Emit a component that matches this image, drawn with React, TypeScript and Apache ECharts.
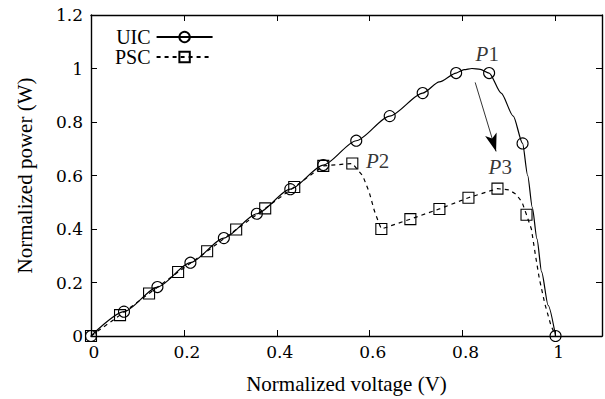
import React, { useEffect, useRef } from "react";
import * as echarts from "echarts";

// UIC (solid line, circle markers)
const uicMarkerX = [0, 0.071, 0.143, 0.214, 0.286, 0.357, 0.429, 0.5, 0.571, 0.643, 0.714, 0.786, 0.857, 0.929, 1.0];
const uicMarkerY = [0, 0.091, 0.183, 0.274, 0.366, 0.457, 0.549, 0.639, 0.73, 0.822, 0.908, 0.983, 0.983, 0.72, 0];
// extra points (no marker)
const uicCurveX = [0.75, 0.803, 0.82, 0.838, 0.883, 0.909, 0.94, 0.95, 0.96, 0.97, 0.984];
const uicCurveY = [0.95, 0.996, 1.0, 0.997, 0.908, 0.822, 0.6, 0.48, 0.363, 0.24, 0.115];

// PSC (dashed line, square markers)
const pscMarkerX = [0, 0.0625, 0.125, 0.1875, 0.25, 0.3125, 0.375, 0.4375, 0.5, 0.5625, 0.625, 0.6875, 0.75, 0.8125, 0.875, 0.9375];
const pscMarkerY = [0, 0.078, 0.159, 0.239, 0.317, 0.398, 0.477, 0.557, 0.636, 0.645, 0.4, 0.437, 0.475, 0.517, 0.551, 0.453];
// extra points (no marker)
const pscCurveX = [0.585, 0.599, 0.61, 0.618, 0.9, 0.915, 0.928, 0.948, 0.956, 0.965, 0.977, 0.99, 1.0];
const pscCurveY = [0.599, 0.537, 0.468, 0.43, 0.546, 0.53, 0.5, 0.4, 0.31, 0.215, 0.12, 0.04, 0];

// annotations
const annoLabels = ["P1", "P2", "P3"];
const annoX = [0.853, 0.617, 0.881];
const annoY = [1.055, 0.655, 0.633];
const arrowStart = [0.827, 0.948];
const arrowEnd = [0.872, 0.69];

const seriesNames = ["UIC", "PSC"];

const FONT = "Liberation Serif";
const TICKFONT = "DejaVu Serif";

function buildData(mx: number[], my: number[], cx: number[], cy: number[]) {
  const pts: any[] = [];
  mx.forEach((x, i) => pts.push({ value: [x, my[i]] }));
  cx.forEach((x, i) => pts.push({ value: [x, cy[i]], symbol: "none" }));
  pts.sort((a, b) => a.value[0] - b.value[0]);
  return pts;
}

export default function App() {
  const ref = useRef<HTMLDivElement>(null);
  useEffect(() => {
    if (!ref.current) return;
    const chart = echarts.init(ref.current, undefined, { renderer: "svg" });
    const axisLine = { show: true, onZero: false, lineStyle: { color: "#000", width: 1.4 } };
    const tick = { show: true, inside: true, length: 6, lineStyle: { color: "#000", width: 1 } };
    const titleStyle = { color: "#000", fontFamily: FONT, fontSize: 21 };
    const tickStyle = { color: "#000", fontFamily: TICKFONT, fontSize: 17 };
    const fmt = (v: number) => {
      const r = Math.round(v * 10) / 10;
      if (Math.abs(r * 5 - Math.round(r * 5)) > 1e-6 || Math.abs(v - r) > 1e-6) return "";
      return String(r);
    };
    chart.setOption({
      animation: false,
      backgroundColor: "#fff",
      grid: { left: 91, right: 2, top: 15, bottom: 61 },
      legend: {
        data: seriesNames,
        orient: "vertical",
        left: 110,
        top: 22,
        align: "right",
        itemWidth: 56,
        itemHeight: 13,
        itemGap: 0,
        textStyle: { ...titleStyle, fontSize: 20, padding: [0, 1, 0, 0] },
      },
      xAxis: [
        {
          type: "value",
          min: 0,
          max: 1.1,
          interval: 0.2,
          name: "Normalized voltage (V)",
          nameLocation: "middle",
          nameGap: 37,
          nameTextStyle: titleStyle,
          axisLine,
          axisTick: tick,
          axisLabel: { ...tickStyle, margin: 7, padding: [0, 0, 0, 6], formatter: fmt },
          splitLine: { show: false },
        },
        {
          type: "value",
          position: "top",
          min: 0,
          max: 1.1,
          interval: 0.2,
          axisLine,
          axisTick: tick,
          axisLabel: { show: false },
          splitLine: { show: false },
        },
      ],
      yAxis: [
        {
          type: "value",
          min: 0,
          max: 1.2,
          interval: 0.2,
          name: "Normalized power (W)",
          nameLocation: "middle",
          nameGap: 56,
          nameTextStyle: titleStyle,
          axisLine,
          axisTick: tick,
          axisLabel: { ...tickStyle, margin: 8, formatter: fmt },
          splitLine: { show: false },
        },
        {
          type: "value",
          position: "right",
          min: 0,
          max: 1.2,
          interval: 0.2,
          axisLine,
          axisTick: tick,
          axisLabel: { show: false },
          splitLine: { show: false },
        },
      ],
      series: [
        {
          name: "UIC",
          type: "line",
          data: buildData(uicMarkerX, uicMarkerY, uicCurveX, uicCurveY),
          symbol: "circle",
          symbolSize: 11,
          smooth: 0.25,
          smoothMonotone: "x",
          clip: false,
          itemStyle: { color: "rgba(0,0,0,0)", borderColor: "#000", borderWidth: 1.1 },
          lineStyle: { color: "#000", width: 1.2, type: "solid" },
          z: 3,
          markLine: {
            silent: true,
            animation: false,
            label: { show: false },
            itemStyle: { color: "#000" },
            lineStyle: { color: "#000", width: 0.8, type: "solid" },
            symbol: ["none", "arrow"],
            symbolSize: 15,
            data: [[{ coord: arrowStart }, { coord: arrowEnd, symbolSize: [9, 18] }]],
          },
        },
        {
          name: "PSC",
          type: "line",
          data: buildData(pscMarkerX, pscMarkerY, pscCurveX, pscCurveY),
          symbol: "rect",
          symbolSize: 11,
          clip: false,
          itemStyle: { color: "rgba(0,0,0,0)", borderColor: "#000", borderWidth: 1.1 },
          lineStyle: { color: "#000", width: 1.2, type: [4, 4] },
          z: 2,
        },
        {
          name: "annotations",
          type: "scatter",
          symbolSize: 0,
          silent: true,
          data: annoLabels.map((t, i) => ({ value: [annoX[i], annoY[i]], name: t })),
          label: {
            show: true,
            position: "inside",
            formatter: (p: any) => `{i|${p.name.slice(0, 1)}}{n|${p.name.slice(1)}}`,
            rich: {
              i: { fontFamily: FONT, fontStyle: "italic", fontSize: 21, color: "#000" },
              n: { fontFamily: FONT, fontSize: 21, color: "#000" },
            },
          },
        },
      ],
    });
    return () => chart.dispose();
  }, []);
  return <div ref={ref} style={{ position: "fixed", left: 0, top: 0, width: 605, height: 399 }} />;
}
